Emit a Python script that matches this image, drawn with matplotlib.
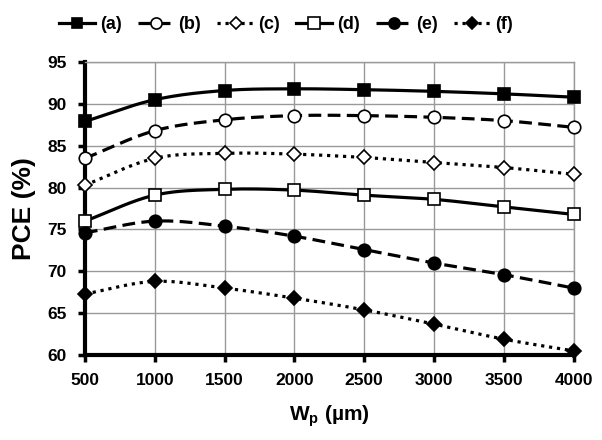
import numpy as np
import matplotlib.pyplot as plt
from matplotlib.lines import Line2D

plt.rcParams["font.family"] = ["Liberation Sans", "DejaVu Sans"]
plt.rcParams["font.weight"] = "bold"

# ── Data ─────────────────────────────────────────────────────────────────────
wp = [500, 1000, 1500, 2000, 2500, 3000, 3500, 4000]
labels = ["(a)", "(b)", "(c)", "(d)", "(e)", "(f)"]
pce_a = [87.9, 90.5, 91.6, 91.8, 91.7, 91.5, 91.2, 90.8]
pce_b = [83.5, 86.8, 88.1, 88.6, 88.6, 88.4, 88.0, 87.2]
pce_c = [80.3, 83.5, 84.1, 84.0, 83.6, 83.0, 82.4, 81.6]
pce_d = [76.0, 79.1, 79.8, 79.7, 79.1, 78.6, 77.7, 76.8]
pce_e = [74.6, 76.0, 75.4, 74.2, 72.6, 71.0, 69.6, 68.0]
pce_f = [67.3, 68.8, 68.0, 66.8, 65.4, 63.7, 61.9, 60.5]
series = [pce_a, pce_b, pce_c, pce_d, pce_e, pce_f]

styles = [
    dict(ls="-", marker="s", mfc="black", ms=8),
    dict(ls=(0, (4, 2)), marker="o", mfc="white", ms=9),
    dict(ls=(0, (1, 1.5)), marker="D", mfc="white", ms=7),
    dict(ls="-", marker="s", mfc="white", ms=9),
    dict(ls=(0, (4, 2)), marker="o", mfc="black", ms=9),
    dict(ls=(0, (1, 1.5)), marker="D", mfc="black", ms=7),
]


def smooth(x, y, n=20):
    """Catmull-Rom curve through the points (like Excel's smoothed line)."""
    x = np.asarray(x, float)
    y = np.asarray(y, float)
    px = np.concatenate([[2 * x[0] - x[1]], x, [2 * x[-1] - x[-2]]])
    py = np.concatenate([[2 * y[0] - y[1]], y, [2 * y[-1] - y[-2]]])
    xs, ys = [], []
    t = np.linspace(0, 1, n, endpoint=False)
    for i in range(1, len(px) - 2):
        for p, out in ((px, xs), (py, ys)):
            p0, p1, p2, p3 = p[i - 1], p[i], p[i + 1], p[i + 2]
            out.extend(0.5 * (2 * p1 + (-p0 + p2) * t
                              + (2 * p0 - 5 * p1 + 4 * p2 - p3) * t ** 2
                              + (-p0 + 3 * p1 - 3 * p2 + p3) * t ** 3))
    xs.append(x[-1])
    ys.append(y[-1])
    return np.array(xs), np.array(ys)


fig = plt.figure(figsize=(6.02, 4.40), dpi=100)
ax = fig.add_axes([0.141, 0.193, 0.812, 0.666])

for vals, st in zip(series, styles):
    sx, sy = smooth(wp, vals)
    ax.plot(sx, sy, color="black", lw=2.3, ls=st["ls"], zorder=3, clip_on=False)
    ax.plot(wp, vals, ls="none", marker=st["marker"], ms=st["ms"],
            mfc=st["mfc"], mec="black", mew=1.2, zorder=4, clip_on=False)

ax.set_xlim(500, 4000)
ax.set_ylim(60, 95)
ax.set_xticks(wp)
ax.set_yticks(range(60, 96, 5))
ax.grid(True, color="#999999", lw=1)
ax.set_axisbelow(True)
for side in ("top", "right"):
    ax.spines[side].set_color("#999999")
    ax.spines[side].set_linewidth(1)
for side in ("left", "bottom"):
    ax.spines[side].set_linewidth(3)
ax.tick_params(direction="out", length=5, width=2.5, labelsize=12.5, pad=8)
for lbl in ax.get_xticklabels() + ax.get_yticklabels():
    lbl.set_fontweight("bold")

ax.set_ylabel("PCE (%)", fontsize=19, fontweight="bold", labelpad=8)
ax.set_xlabel(r"W$_\mathregular{p}$ (µm)", fontsize=15, fontweight="bold", labelpad=11)

handles = [
    Line2D([], [], color="black", lw=2.3, ls=st["ls"], marker=st["marker"],
           ms=st["ms"] - 1, mfc=st["mfc"], mec="black", mew=1.2)
    for st in styles
]
fig.legend(handles, labels, loc="upper center", bbox_to_anchor=(0.475, 1.0),
           ncol=6, frameon=False, handlelength=2.0, handletextpad=0.25,
           columnspacing=0.9, prop=dict(size=13, weight="bold"))

fig.savefig("out.png", dpi=100)
